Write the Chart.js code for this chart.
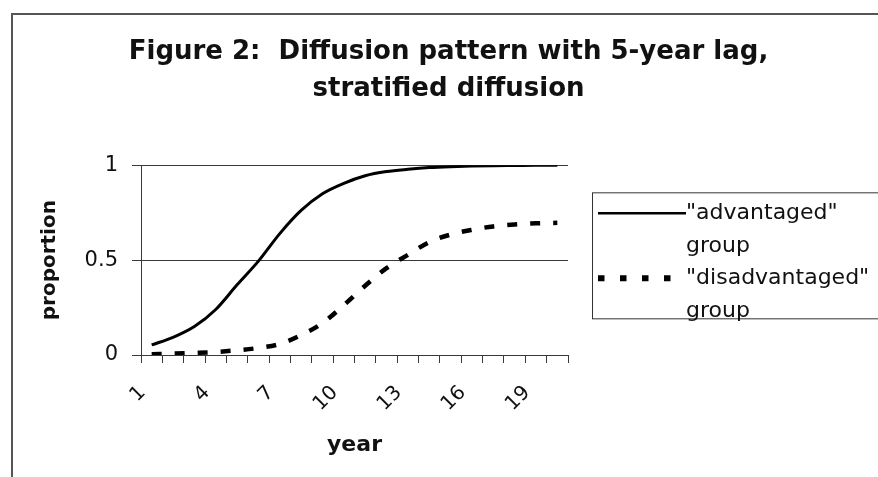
<!DOCTYPE html>
<html>
<head>
<meta charset="utf-8">
<script src="https://cdn.jsdelivr.net/npm/chart.js@4"></script>
<style>
  body { margin: 0; background: #fff; overflow: hidden; }
  #frame { position: absolute; left: 11px; top: 13px; width: 900px; height: 500px;
           border-left: 2px solid #555; border-top: 2px solid #555; }
  #chart { position: absolute; left: 0; top: 0; }
</style>
</head>
<body>
<div id="frame"></div>
<canvas id="chart" width="878" height="477"></canvas>
<script>
const years = [1, 2, 3, 4, 5, 6, 7, 8, 9, 10, 11, 12, 13, 14, 15, 16, 17, 18, 19, 20];

const advantaged = [0.053, 0.093, 0.15, 0.24, 0.37, 0.495, 0.64, 0.762, 0.85, 0.905,
                    0.945, 0.967, 0.979, 0.988, 0.993, 0.996, 0.998, 0.999, 1.0, 1.0];

const disadvantaged = [0.004, 0.007, 0.011, 0.016, 0.025, 0.037, 0.058, 0.105, 0.168, 0.263,
                       0.365, 0.458, 0.528, 0.595, 0.635, 0.66, 0.678, 0.688, 0.694, 0.697];

const seriesNames = [['"advantaged"', 'group'], ['"disadvantaged"', 'group']];

const yTicks = [0, 0.5, 1];

const titleLines = ['Figure 2:  Diffusion pattern with 5-year lag,', 'stratified diffusion'];

const font = '"DejaVu Sans", sans-serif';
const ink = '#111';
const rule = '#3a3a3a';

// legend drawn as a boxed list on the right, like the original
const legendBox = {
    id: 'legendBox',
    afterDraw(chart) {
        const ctx = chart.ctx;
        const area = chart.chartArea;
        const left = area.right + 24;
        const top = area.top + 27;
        ctx.save();
        ctx.strokeStyle = '#333';
        ctx.lineWidth = 1;
        ctx.strokeRect(left + 0.5, top + 0.5, chart.width, 126);
        ctx.font = '22px ' + font;
        ctx.textBaseline = 'middle';
        ctx.fillStyle = ink;
        chart.data.datasets.forEach((ds, i) => {
            const y = top + 21 + i * 65;
            ctx.beginPath();
            ctx.strokeStyle = ds.borderColor;
            if (ds.borderDash) {
                ctx.lineWidth = 6;
                ctx.setLineDash([6.5, 15.5]);
            } else {
                ctx.lineWidth = 2.5;
            }
            ctx.moveTo(left + 6, y);
            ctx.lineTo(left + 94, y);
            ctx.stroke();
            ctx.setLineDash([]);
            seriesNames[i].forEach((t, j) => ctx.fillText(t, left + 94, y + j * 32.5));
        });
        ctx.restore();
    }
};

new Chart(document.getElementById('chart'), {
    type: 'line',
    data: {
        labels: years,
        datasets: [{
            label: seriesNames[0].join(' '),
            data: advantaged,
            borderColor: '#000',
            borderWidth: 3,
            pointRadius: 0,
            cubicInterpolationMode: 'monotone',
            fill: false
        }, {
            label: seriesNames[1].join(' '),
            data: disadvantaged,
            borderColor: '#000',
            borderWidth: 4.5,
            borderDash: [10, 13],
            pointRadius: 0,
            cubicInterpolationMode: 'monotone',
            fill: false
        }]
    },
    options: {
        responsive: false,
        animation: false,
        devicePixelRatio: 1,
        layout: { padding: { left: 19, top: 0, right: 0, bottom: 0 } },
        plugins: {
            legend: { display: false },
            tooltip: { enabled: false },
            title: {
                display: true,
                text: titleLines,
                color: ink,
                font: { family: font, size: 26, weight: 'bold', lineHeight: 1.41 },
                padding: { top: 34, bottom: 58 }
            }
        },
        scales: {
            x: {
                offset: true,
                afterFit: s => { s.height = 122; },
                grid: {
                    offset: true,
                    drawOnChartArea: false,
                    drawTicks: true,
                    tickLength: 8,
                    tickColor: rule
                },
                border: { color: rule, width: 1 },
                ticks: {
                    autoSkip: false,
                    minRotation: 45,
                    maxRotation: 45,
                    padding: 18,
                    labelOffset: -9,
                    color: ink,
                    font: { family: font, size: 20 },
                    callback: (v, i) => (i % 3 === 0 ? String(years[i]) : '')
                },
                title: {
                    display: true,
                    text: 'year',
                    color: ink,
                    font: { family: font, size: 22, weight: 'bold' },
                    padding: { top: 0, bottom: 19 }
                }
            },
            y: {
                min: 0,
                max: 1,
                afterFit: s => { s.width = 122; },
                afterBuildTicks: s => { s.ticks = yTicks.map(v => ({ value: v })); },
                grid: {
                    color: rule,
                    lineWidth: 1,
                    drawTicks: true,
                    tickLength: 9,
                    tickColor: rule
                },
                border: { color: rule, width: 1 },
                ticks: {
                    padding: 14,
                    color: ink,
                    font: { family: font, size: 21 },
                    callback: v => String(v)
                },
                title: {
                    display: true,
                    text: 'proportion',
                    color: ink,
                    font: { family: font, size: 20, weight: 'bold' },
                    padding: { top: 19, bottom: 0 }
                }
            },
            side: {
                position: 'right',
                type: 'linear',
                afterFit: s => { s.width = 310; },
                grid: { display: false },
                border: { display: false },
                ticks: { display: false }
            }
        }
    },
    plugins: [legendBox]
});
</script>
</body>
</html>
